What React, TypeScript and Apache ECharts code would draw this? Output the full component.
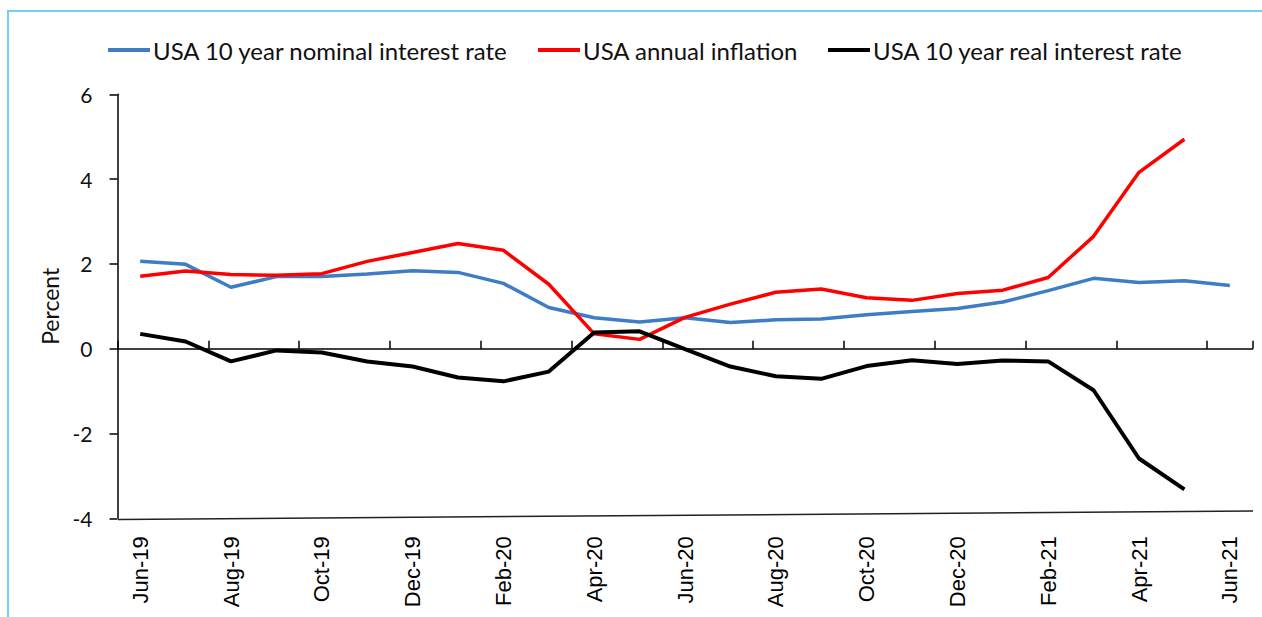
import React, { useEffect, useRef } from "react";
import * as echarts from "echarts";

const months = [
  "Jun-19", "Jul-19", "Aug-19", "Sep-19", "Oct-19", "Nov-19", "Dec-19",
  "Jan-20", "Feb-20", "Mar-20", "Apr-20", "May-20", "Jun-20", "Jul-20",
  "Aug-20", "Sep-20", "Oct-20", "Nov-20", "Dec-20", "Jan-21", "Feb-21",
  "Mar-21", "Apr-21", "May-21", "Jun-21",
];

const nominal = [
  2.06, 1.99, 1.45, 1.70, 1.70, 1.76, 1.84, 1.80, 1.54, 0.97, 0.73, 0.63,
  0.73, 0.62, 0.68, 0.70, 0.80, 0.88, 0.95, 1.10, 1.37, 1.66, 1.56, 1.60, 1.49,
];

const inflation = [
  1.71, 1.83, 1.75, 1.73, 1.77, 2.06, 2.27, 2.48, 2.32, 1.52, 0.35, 0.22,
  0.74, 1.05, 1.33, 1.41, 1.20, 1.14, 1.30, 1.38, 1.68, 2.65, 4.16, 4.94,
];

const real = [
  0.35, 0.17, -0.30, -0.04, -0.09, -0.30, -0.42, -0.68, -0.77, -0.54, 0.38,
  0.41, -0.01, -0.42, -0.65, -0.71, -0.41, -0.27, -0.36, -0.28, -0.30, -0.98,
  -2.59, -3.32,
];

const yTicks = { min: -4, max: 6, interval: 2 };

const names = [
  "USA 10 year nominal interest rate",
  "USA annual inflation",
  "USA 10 year real interest rate",
];
const colors = ["#3C7DC4", "#FF0000", "#000000"];

export default function App() {
  const ref = useRef<HTMLDivElement>(null);
  useEffect(() => {
    if (!ref.current) return;
    const chart = echarts.init(ref.current, undefined, { renderer: "svg" });
    const legendText = { fontFamily: "Lato", fontSize: 24, color: "#111", padding: [0, 0, 0, -2] };
    const mkLegend = (name: string, left: number) => ({
      data: [name],
      left,
      top: 38,
      padding: 0,
      icon: "rect",
      itemWidth: 42,
      itemHeight: 4,
      itemGap: 0,
      textStyle: legendText,
      selectedMode: false,
    });
    chart.setOption({
      animation: false,
      backgroundColor: "#fff",
      legend: [
        mkLegend(names[0], 108),
        mkLegend(names[1], 538),
        mkLegend(names[2], 828),
      ],
      grid: { left: 117.5, right: 9.5, top: 94.3, bottom: 98.7, containLabel: false },
      xAxis: [
        {
          type: "category",
          data: months,
          boundaryGap: true,
          axisLine: { onZero: true, lineStyle: { color: "#000", width: 1.5 } },
          axisTick: { show: true, inside: true, length: 8, interval: 1, lineStyle: { color: "#000", width: 1.5 } },
          axisLabel: { show: false },
          splitLine: { show: false },
        },
        {
          type: "category",
          data: months,
          position: "bottom",
          boundaryGap: true,
          axisLine: { show: false, onZero: false },
          axisTick: { show: false },
          axisLabel: {
            interval: 1,
            rotate: 90,
            margin: 18,
            fontFamily: "Liberation Sans",
            fontSize: 22,
            color: "#000",
          },
          splitLine: { show: false },
        },
      ],
      yAxis: {
        type: "value",
        min: yTicks.min,
        max: yTicks.max,
        interval: yTicks.interval,
        name: "Percent",
        nameLocation: "middle",
        nameGap: 54,
        nameTextStyle: { fontFamily: "Lato", fontSize: 23, color: "#111" },
        axisLine: { show: true, lineStyle: { color: "#000", width: 1.5 } },
        axisTick: { show: true, length: 8, lineStyle: { color: "#000", width: 1.5 } },
        axisLabel: { margin: 25, fontFamily: "Lato", fontSize: 21, color: "#111" },
        splitLine: { show: false },
      },
      graphic: [
        {
          type: "rect",
          shape: { x: 8, y: 11, width: 1300, height: 700 },
          style: { fill: "none", stroke: "#74D0F2", lineWidth: 2 },
          silent: true,
        },
        {
          type: "line",
          shape: { x1: 118, y1: 519.5, x2: 1253, y2: 511 },
          style: { stroke: "#222", lineWidth: 1.5 },
          silent: true,
        },
      ],
      series: [
        { name: names[0], type: "line", data: nominal, xAxisIndex: 0, symbol: "none", lineStyle: { color: colors[0], width: 3.5 }, itemStyle: { color: colors[0] }, z: 3 },
        { name: names[1], type: "line", data: inflation, xAxisIndex: 0, symbol: "none", lineStyle: { color: colors[1], width: 3.5 }, itemStyle: { color: colors[1] }, z: 4 },
        { name: names[2], type: "line", data: real, xAxisIndex: 0, symbol: "none", lineStyle: { color: colors[2], width: 4 }, itemStyle: { color: colors[2] }, z: 5 },
      ],
    });
    return () => chart.dispose();
  }, []);
  return (
    <div
      ref={ref}
      style={{ position: "absolute", left: 0, top: 0, width: 1262, height: 617 }}
    />
  );
}
